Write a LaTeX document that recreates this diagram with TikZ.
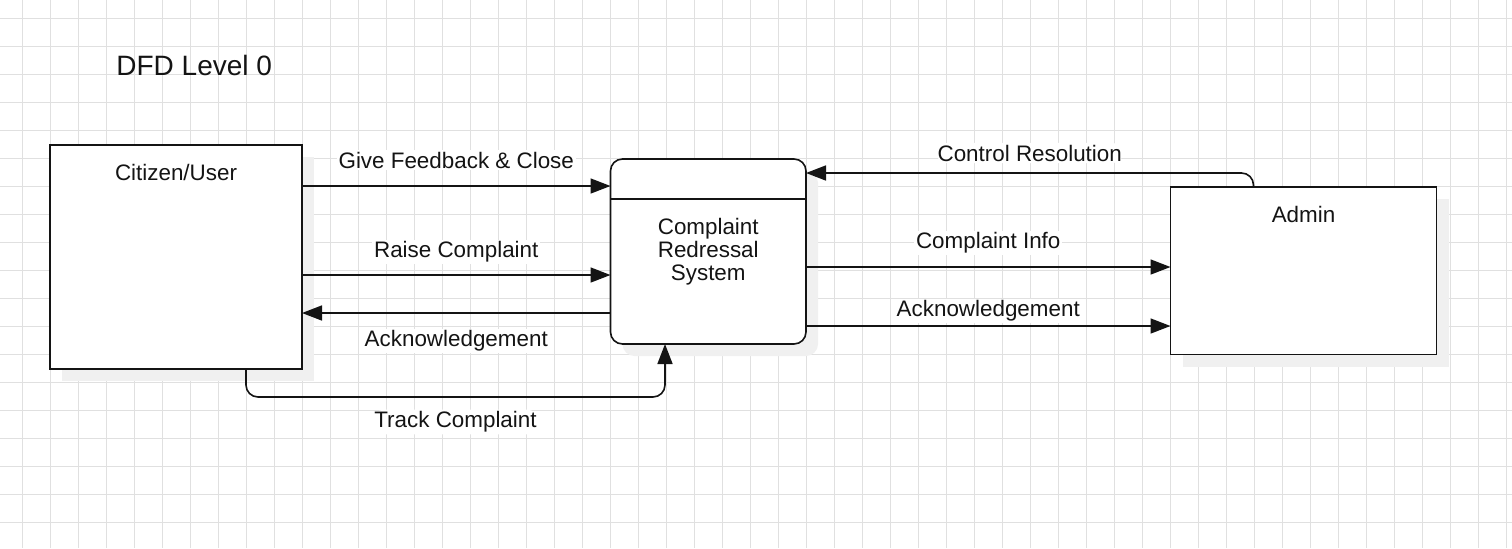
\documentclass[tikz,border=0pt]{standalone}
\usepackage{fontspec}
\setmainfont{Liberation Sans}
\definecolor{dfdink}{RGB}{20,20,20}
\definecolor{dfdgrid}{RGB}{224,224,224}
\definecolor{dfdshadow}{RGB}{240,240,240}
\usepackage{tikz}
\usetikzlibrary{arrows.meta,positioning,shadows}

\begin{document}
\begin{tikzpicture}[
  x=0.5pt, y=-0.5pt,
  >={Triangle[length=10pt,width=7.5pt]},
  lbl/.style={text=dfdink, font=\fontsize{11.2}{11.5}\selectfont, fill=white, inner sep=1pt},
  entity/.style={draw=dfdink, line width=0.8pt, fill=white, outer sep=0pt, drop shadow={shadow xshift=6pt, shadow yshift=-6pt, fill=dfdshadow, opacity=1}},
  proc/.style={entity, rounded corners=6pt, align=center, text=dfdink, font=\fontsize{11.2}{11.5}\selectfont},
  flow/.style={->, line width=0.8pt, dfdink},
  gridline/.style={dfdgrid, line width=0.5pt}
]

% Paper and grid
\fill[white] (0,0) rectangle (1512,548);
\useasboundingbox (0,0) rectangle (1512,548);
\foreach \gx in {22.5,50.5,...,1512} \draw[gridline] (\gx,0) -- (\gx,548);
\foreach \gy in {18.5,46.5,...,548} \draw[gridline] (0,\gy) -- (1512,\gy);

\node[anchor=west, inner sep=0pt, text=dfdink, font=\fontsize{14}{16}\selectfont] (title) at (116,65) {DFD Level 0};

% External entities and process
\node[entity, minimum width=126pt, minimum height=112pt] (user) at (176,257) {};
\node[lbl, fill=none] (usertxt) at ([yshift=-13.5pt]user.north) {Citizen/User};

\node[entity, minimum width=133pt, minimum height=83.75pt] (admin) at (1303.5,270.75) {};
\node[lbl, fill=none] (admintxt) at ([yshift=-13.5pt]admin.north) {Admin};

\node[proc, minimum width=97.75pt, minimum height=92.5pt] (crs) at (708.25,251.5) {Complaint\\Redressal\\System};
\draw[dfdink, line width=0.8pt] ([yshift=-20pt]crs.north west) -- ([yshift=-20pt]crs.north east);

% Flows between citizen and system
\draw[flow] ([yshift=35.5pt]user.east) -- ([yshift=32.75pt]crs.west)
  node[lbl, midway, yshift=13pt] (lblfeed) {Give Feedback \& Close};
\draw[flow] ([yshift=-9pt]user.east) -- ([yshift=-11.75pt]crs.west)
  node[lbl, midway, yshift=11.5pt] (lblraise) {Raise Complaint};
\draw[flow] ([yshift=-30.75pt]crs.west) -- ([yshift=-28pt]user.east)
  node[lbl, midway, yshift=-14pt] (lblackuser) {Acknowledgement};
\draw[flow, rounded corners=6pt] ([xshift=35pt]user.south) -- ++(0,28) -| ([xshift=-21.625pt]crs.south)
  node[lbl, pos=0.25, yshift=-12.5pt] (lbltrack) {Track Complaint};

% Flows between system and admin
\draw[flow, rounded corners=6pt] ([xshift=-25pt]admin.north) |- ([yshift=39.25pt]crs.east)
  node[lbl, pos=0.75, yshift=10pt] (lblcontrol) {Control Resolution};
\draw[flow] ([yshift=-7.75pt]crs.east) -- ([yshift=1.875pt]admin.west)
  node[lbl, midway, yshift=12pt] (lblinfo) {Complaint Info};
\draw[flow] ([yshift=-37.25pt]crs.east) -- ([yshift=-27.625pt]admin.west)
  node[lbl, midway, yshift=7.5pt] (lblackadmin) {Acknowledgement};
\end{tikzpicture}
\end{document}
